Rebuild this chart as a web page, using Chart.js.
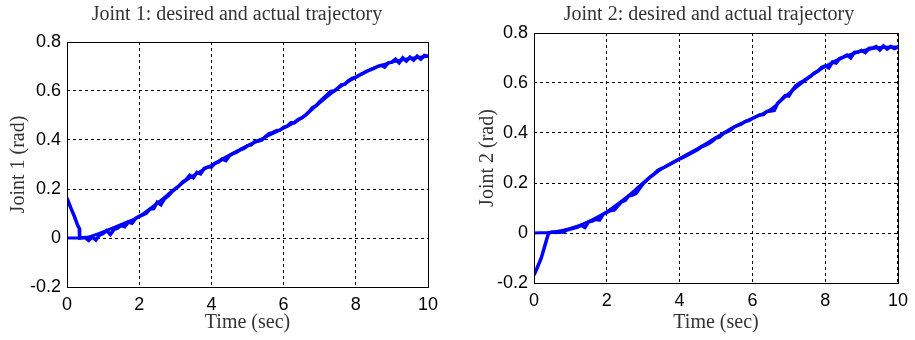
<!DOCTYPE html>
<html>
<head>
<meta charset="utf-8">
<script src="https://cdn.jsdelivr.net/npm/chart.js@4.4.1/dist/chart.umd.min.js"></script>
<style>
  html, body { margin: 0; padding: 0; background: #fff; }
  #wrap { position: relative; width: 915px; height: 340px; }
  .box { position: absolute; top: 0; height: 340px; }
  .judul {
    position: absolute; top: 2px; white-space: nowrap;
    font: 20px "Liberation Serif", "Times New Roman", serif; color: #333;
    transform: translateX(-50%);
  }
</style>
</head>
<body>
<div id="wrap">
  <div class="box" style="left:0;width:460px"><canvas id="grafikJoint1"></canvas></div>
  <div class="box" style="left:460px;width:455px"><canvas id="grafikJoint2"></canvas></div>
  <div class="judul" style="left:237px">Joint 1: desired and actual trajectory</div>
  <div class="judul" style="left:709px">Joint 2: desired and actual trajectory</div>
</div>
<script>
// =====================================================
// DATA
// =====================================================
const waktuDesired = [0, 0.5, 1, 1.5, 2, 2.5, 3, 3.5, 4, 4.5, 5, 5.5, 6, 6.5, 7, 7.5, 8, 8.5, 9, 9.5, 10];
const desiredJoint1 = [0, 0.002, 0.025, 0.055, 0.088, 0.142, 0.202, 0.255, 0.297, 0.338, 0.377, 0.412, 0.448, 0.49, 0.552, 0.61, 0.656, 0.694, 0.718, 0.733, 0.742];
const desiredJoint2 = [0, 0.003, 0.018, 0.046, 0.085, 0.138, 0.2, 0.256, 0.298, 0.338, 0.382, 0.425, 0.459, 0.494, 0.558, 0.616, 0.666, 0.703, 0.728, 0.742, 0.744];

const waktuAktual1 = [0, 0.1, 0.2, 0.3, 0.34, 0.35, 0.5, 0.6, 0.7, 0.8, 0.9, 1.0, 1.1, 1.2, 1.3, 1.4, 1.5, 1.6, 1.7, 1.8, 1.9,
  2.0, 2.1, 2.2, 2.3, 2.4, 2.5, 2.6, 2.7, 2.8, 2.9, 3.0, 3.1, 3.2, 3.3, 3.4, 3.5, 3.6, 3.7, 3.8, 3.9,
  4.0, 4.1, 4.2, 4.3, 4.4, 4.5, 4.6, 4.7, 4.8, 4.9, 5.0, 5.1, 5.2, 5.3, 5.4, 5.5, 5.6, 5.7, 5.8, 5.9,
  6.0, 6.1, 6.2, 6.3, 6.4, 6.5, 6.6, 6.7, 6.8, 6.9, 7.0, 7.1, 7.2, 7.3, 7.4, 7.5, 7.6, 7.7, 7.8, 7.9,
  8.0, 8.1, 8.2, 8.3, 8.4, 8.5, 8.6, 8.7, 8.8, 8.9, 9.0, 9.1, 9.2, 9.3, 9.4, 9.5, 9.6, 9.7, 9.8, 9.9, 10.0];
const aktualJoint1 = [0.163, 0.125, 0.09, 0.05, 0.04, 0.0, 0.002, -0.01, 0.004, -0.008, 0.012, 0.018, 0.03, 0.014, 0.035, 0.04, 0.052, 0.046, 0.065, 0.06, 0.08,
  0.088, 0.094, 0.102, 0.118, 0.12, 0.146, 0.136, 0.16, 0.172, 0.188, 0.2, 0.212, 0.228, 0.238, 0.256, 0.246, 0.268, 0.262, 0.284, 0.29,
  0.29, 0.305, 0.31, 0.322, 0.316, 0.336, 0.345, 0.35, 0.36, 0.366, 0.376, 0.38, 0.392, 0.396, 0.4, 0.414, 0.426, 0.43, 0.438, 0.44,
  0.452, 0.456, 0.47, 0.47, 0.484, 0.49, 0.5, 0.515, 0.532, 0.54, 0.556, 0.57, 0.584, 0.598, 0.6, 0.612, 0.625, 0.628, 0.642, 0.652,
  0.656, 0.665, 0.672, 0.68, 0.686, 0.692, 0.7, 0.705, 0.698, 0.715, 0.718, 0.73, 0.715, 0.735, 0.722, 0.738, 0.726, 0.742, 0.73, 0.745, 0.742];

const waktuAktual2 = [0, 0.1, 0.2, 0.3, 0.4, 0.5, 0.6, 0.7, 0.8, 0.9, 1.0, 1.1, 1.2, 1.3, 1.4, 1.5, 1.6, 1.7, 1.8, 1.9,
  2.0, 2.1, 2.2, 2.3, 2.4, 2.5, 2.6, 2.7, 2.8, 2.9, 3.0, 3.1, 3.2, 3.3, 3.4, 3.5, 3.6, 3.7, 3.8, 3.9,
  4.0, 4.1, 4.2, 4.3, 4.4, 4.5, 4.6, 4.7, 4.8, 4.9, 5.0, 5.1, 5.2, 5.3, 5.4, 5.5, 5.6, 5.7, 5.8, 5.9,
  6.0, 6.1, 6.2, 6.3, 6.4, 6.5, 6.6, 6.7, 6.8, 6.9, 7.0, 7.1, 7.2, 7.3, 7.4, 7.5, 7.6, 7.7, 7.8, 7.9,
  8.0, 8.1, 8.2, 8.3, 8.4, 8.5, 8.6, 8.7, 8.8, 8.9, 9.0, 9.1, 9.2, 9.3, 9.4, 9.5, 9.6, 9.7, 9.8, 9.9, 10.0];
const aktualJoint2 = [-0.168, -0.135, -0.1, -0.05, 0.0, 0.004, 0.002, 0.005, 0.003, 0.012, 0.016, 0.02, 0.024, 0.03, 0.022, 0.045, 0.048, 0.055, 0.052, 0.075,
  0.082, 0.09, 0.092, 0.108, 0.124, 0.13, 0.148, 0.152, 0.158, 0.178, 0.198, 0.212, 0.226, 0.236, 0.25, 0.258, 0.264, 0.272, 0.28, 0.288,
  0.296, 0.302, 0.31, 0.318, 0.326, 0.334, 0.345, 0.35, 0.358, 0.368, 0.38, 0.384, 0.398, 0.404, 0.412, 0.424, 0.43, 0.436, 0.446, 0.45,
  0.458, 0.465, 0.472, 0.474, 0.486, 0.488, 0.49, 0.52, 0.534, 0.55, 0.548, 0.572, 0.59, 0.6, 0.608, 0.618, 0.628, 0.64, 0.648, 0.662,
  0.668, 0.66, 0.684, 0.68, 0.698, 0.704, 0.712, 0.7, 0.722, 0.724, 0.73, 0.722, 0.738, 0.74, 0.746, 0.732, 0.748, 0.736, 0.746, 0.738, 0.744];

const tickWaktu = [0, 2, 4, 6, 8, 10];
const tickJoint = [-0.2, 0, 0.2, 0.4, 0.6, 0.8];

// =====================================================
// PLUGIN: kotak hitam di sekeliling area plot
// =====================================================
const bingkaiPlot = {
    id: 'bingkaiPlot',
    afterDraw(chart) {
        const a = chart.chartArea;
        const ctx = chart.ctx;
        ctx.save();
        ctx.strokeStyle = '#000';
        ctx.lineWidth = 1;
        ctx.setLineDash([]);
        ctx.strokeRect(Math.round(a.left) + 0.5, Math.round(a.top) + 0.5,
            Math.round(a.right - a.left), Math.round(a.bottom - a.top));
        ctx.restore();
    }
};

function gabung(xs, ys) {
    return xs.map((x, i) => ({ x: x, y: ys[i] }));
}

const fontSans = '"Liberation Sans", Arial, sans-serif';
const fontSerif = '"Liberation Serif", "Times New Roman", serif';

// =====================================================
// BUAT GRAFIK
// =====================================================
function buatGrafik(id, labelY, desired, waktuAktual, aktual, lay) {
    const ctx = document.getElementById(id).getContext('2d');
    return new Chart(ctx, {
        type: 'line',
        data: {
            datasets: [{
                label: 'desired',
                data: gabung(waktuDesired, desired),
                borderColor: '#0000ff',
                borderWidth: 3,
                pointRadius: 0,
                cubicInterpolationMode: 'monotone'
            }, {
                label: 'actual',
                data: gabung(waktuAktual, aktual),
                borderColor: '#0000ff',
                borderWidth: 3.5,
                pointRadius: 0,
                tension: 0
            }]
        },
        options: {
            responsive: true,
            maintainAspectRatio: false,
            animation: false,
            layout: { padding: lay.padding },
            plugins: {
                legend: { display: false },
                tooltip: { enabled: false }
            },
            scales: {
                x: {
                    type: 'linear',
                    min: 0,
                    max: 10,
                    afterBuildTicks: s => { s.ticks = tickWaktu.map(v => ({ value: v })); },
                    afterFit: s => { s.height = lay.xHeight; },
                    grid: { color: '#000', drawTicks: false },
                    border: { display: false, dash: [3, 3] },
                    ticks: {
                        color: '#000',
                        padding: 7,
                        maxRotation: 0,
                        font: { family: fontSans, size: 18 }
                    },
                    title: {
                        display: true,
                        text: 'Time (sec)',
                        color: '#333',
                        padding: { top: 0, bottom: 0 },
                        font: { family: fontSerif, size: 20 }
                    }
                },
                y: {
                    min: -0.2,
                    max: 0.8,
                    afterBuildTicks: s => { s.ticks = tickJoint.map(v => ({ value: v })); },
                    afterFit: s => { s.width = lay.yWidth; },
                    grid: { color: '#000', drawTicks: false },
                    border: { display: false, dash: [3, 3] },
                    ticks: {
                        color: '#000',
                        padding: 6,
                        font: { family: fontSans, size: 18 },
                        callback: v => String(+v.toFixed(1))
                    },
                    title: {
                        display: true,
                        text: labelY,
                        color: '#333',
                        padding: lay.yTitlePad,
                        font: { family: fontSerif, size: 20 }
                    }
                }
            }
        },
        plugins: [bingkaiPlot]
    });
}

buatGrafik('grafikJoint1', 'Joint 1 (rad)', desiredJoint1, waktuAktual1, aktualJoint1, {
    padding: { left: 7, right: 32, top: 42, bottom: 5 },
    xHeight: 48,
    yWidth: 60,
    yTitlePad: { top: 0, bottom: 0 }
});

buatGrafik('grafikJoint2', 'Joint 2 (rad)', desiredJoint2, waktuAktual2, aktualJoint2, {
    padding: { left: 8, right: 13, top: 33, bottom: 5 },
    xHeight: 52,
    yWidth: 66,
    yTitlePad: { top: 8, bottom: 0 }
});
</script>
</body>
</html>
